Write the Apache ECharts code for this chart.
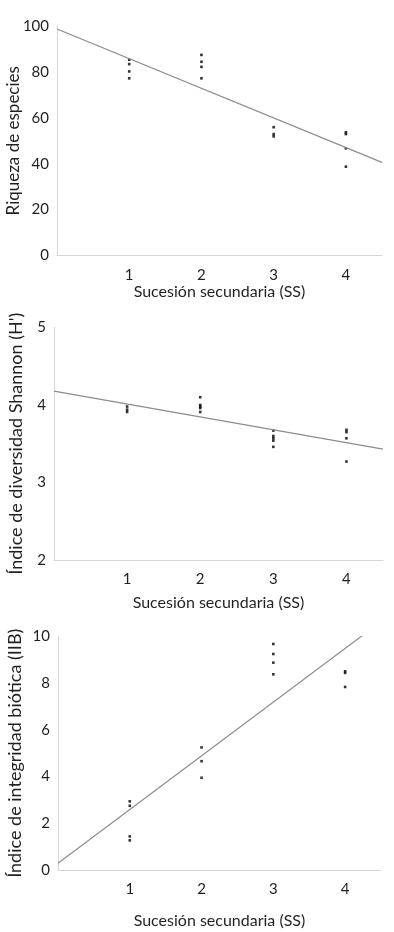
<!DOCTYPE html>
<html><head><meta charset="utf-8">
<script src="https://cdn.jsdelivr.net/npm/echarts@6/dist/echarts.min.js"></script>
<style>html,body{margin:0;padding:0;background:#fff}#c{width:394px;height:932px}</style>
</head><body><div id="c"></div>
<script>
// Panel 1: Riqueza de especies
const riquezaSS  = [1,1,1,1, 2,2,2,2, 3,3,3, 4,4,4,4];
const riquezaVal = [85.3,83.4,80.2,77.2, 87.4,84.4,82.2,77.2, 55.9,52.9,51.9, 53.7,52.9,46.7,38.7];
const riquezaFitX = [0, 4.5];
const riquezaFitY = [98.7, 40.6];
// Panel 2: Shannon
const shannonSS  = [1,1,1, 2,2,2,2,2, 3,3,3,3,3, 4,4,4,4];
const shannonVal = [3.98,3.94,3.91, 4.10,4.00,3.98,3.96,3.91, 3.67,3.60,3.57,3.54,3.46, 3.68,3.65,3.57,3.27];
const shannonFitX = [0, 4.5];
const shannonFitY = [4.18, 3.43];
// Panel 3: IIB
const iibSS  = [1,1,1,1, 2,2,2, 3,3,3,3, 4,4,4];
const iibVal = [2.94,2.75,1.44,1.27, 5.25,4.66,3.95, 9.68,9.25,8.88,8.38, 8.51,8.44,7.84];
const iibFitX = [0, 4.5];
const iibFitY = [0.29, 10.64];

const xTicks = [1,2,3,4];
const xName = 'Sucesión secundaria (SS)';
const yNames = ['Riqueza de especies', 'Índice de diversidad Shannon (H\')', 'Índice de integridad biótica (IIB)'];

const FONT = 'Lato';
const TXT = '#231f20';
const AX = '#d6d6d6';

function zip(a,b){return a.map((v,i)=>[v,b[i]]);}

const grids = [
  {left:57, right:12, top:26, height:229.5},
  {left:54, right:11, top:327.5, height:232.5},
  {left:58, right:13, top:636.5, height:233.5}
];
const yCfg = [
  {min:0,max:100,interval:20,gap:35,fs:17},
  {min:2,max:5,interval:1,gap:29,fs:18},
  {min:0,max:10,interval:2,gap:34,fs:18}
];
const xGaps = [28, 35, 43];

const option = {
  animation:false,
  grid: grids.map(g=>Object.assign({containLabel:false,outerBoundsMode:'none'},g)),
  xAxis: grids.map((g,i)=>({
    type:'value', gridIndex:i, min:0, max:4.5, interval:1,
    name:xName, nameLocation:'middle', nameGap:xGaps[i], nameMoveOverlap:false,
    nameTextStyle:{fontFamily:FONT,fontSize:16,color:TXT},
    axisLine:{show:true,lineStyle:{color:AX,width:1}},
    axisTick:{show:false}, splitLine:{show:false},
    axisLabel:{fontFamily:FONT,fontSize:15,color:TXT,margin:12,showMaxLabel:false,
      formatter:v=>xTicks.includes(v)?String(v):''}
  })),
  yAxis: yCfg.map((c,i)=>({
    type:'value', gridIndex:i, min:c.min, max:c.max, interval:c.interval,
    name:yNames[i], nameLocation:'middle', nameGap:c.gap, nameRotate:90, nameMoveOverlap:false,
    nameTextStyle:{fontFamily:FONT,fontSize:c.fs,color:TXT},
    axisLine:{show:true,lineStyle:{color:AX,width:1}},
    axisTick:{show:false}, splitLine:{show:false},
    axisLabel:{fontFamily:FONT,fontSize:15,color:TXT,margin:8}
  })),
  series:[
    {type:'line',xAxisIndex:0,yAxisIndex:0,data:zip(riquezaFitX,riquezaFitY),symbol:'none',lineStyle:{color:'#8c8c8c',width:1.2},clip:true},
    {type:'scatter',xAxisIndex:0,yAxisIndex:0,data:zip(riquezaSS,riquezaVal),symbol:'rect',symbolSize:2.6,itemStyle:{color:'#000'}},
    {type:'line',xAxisIndex:1,yAxisIndex:1,data:zip(shannonFitX,shannonFitY),symbol:'none',lineStyle:{color:'#8c8c8c',width:1.2},clip:true},
    {type:'scatter',xAxisIndex:1,yAxisIndex:1,data:zip(shannonSS,shannonVal),symbol:'rect',symbolSize:2.6,itemStyle:{color:'#000'}},
    {type:'line',xAxisIndex:2,yAxisIndex:2,data:zip(iibFitX,iibFitY),symbol:'none',lineStyle:{color:'#8c8c8c',width:1.2},clip:true},
    {type:'scatter',xAxisIndex:2,yAxisIndex:2,data:zip(iibSS,iibVal),symbol:'rect',symbolSize:2.6,itemStyle:{color:'#000'}}
  ]
};
const chart = echarts.init(document.getElementById('c'), null, {renderer:'canvas'});
chart.setOption(option);
</script></body></html>
